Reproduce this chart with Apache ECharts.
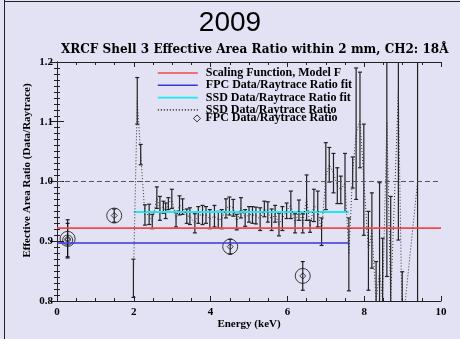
<!DOCTYPE html>
<html>
<head>
<meta charset="utf-8">
<script src="https://cdn.jsdelivr.net/npm/echarts@6/dist/echarts.min.js"></script>
<style>
  html, body { margin: 0; padding: 0; background: #e2e2f4; }
  #chart { width: 460px; height: 339px; }
</style>
</head>
<body>
<div id="chart"></div>
<script>
// SSD data/raytrace ratio per energy bin (keV), with 1-sigma errors
const ssdEnergy = [1.99, 2.09, 2.18, 2.29, 2.40, 2.48, 2.60, 2.68, 2.77, 2.83,
  2.90, 2.99, 3.10, 3.19, 3.27, 3.38, 3.46, 3.59, 3.68, 3.79,
  3.88, 3.98, 4.10, 4.20, 4.29, 4.40, 4.49, 4.59, 4.68, 4.79,
  4.90, 5.00, 5.09, 5.18, 5.29, 5.40, 5.49, 5.59, 5.68, 5.78,
  5.87, 5.98, 6.09, 6.20, 6.30, 6.40, 6.50, 6.59, 6.69, 6.79,
  6.89, 7.00, 7.09, 7.20, 7.30, 7.39, 7.50, 7.60, 7.70, 7.79,
  7.89, 7.99, 8.11, 8.20, 8.31, 8.40, 8.48, 8.59, 8.69, 8.89,
  8.99, 9.39];
const ssdRatio = [0.838, 1.135, 1.045, 0.944, 0.945, 0.933, 0.973, 0.955, 0.957, 0.951,
  0.963, 0.971, 0.937, 0.960, 0.958, 0.942, 0.942, 0.930, 0.944, 0.944,
  0.944, 0.937, 0.942, 0.936, 0.937, 0.955, 0.959, 0.956, 0.932, 0.956,
  0.939, 0.945, 0.944, 0.943, 0.937, 0.954, 0.949, 0.936, 0.946, 0.928,
  0.938, 0.951, 0.961, 0.930, 0.952, 0.930, 0.973, 0.925, 0.960, 0.954,
  0.916, 1.009, 1.028, 1.014, 0.993, 0.986, 0.998, 0.878, 1.015, 1.080,
  1.103, 1.003, 0.884, 0.918, 0.800, 0.850, 0.800, 1.100, 0.800, 1.150,
  0.750, 1.000];
const ssdErr = [0.032, 0.039, 0.017, 0.017, 0.017, 0.012, 0.018, 0.020, 0.010, 0.013,
  0.010, 0.016, 0.013, 0.016, 0.013, 0.012, 0.014, 0.016, 0.014, 0.016,
  0.014, 0.016, 0.018, 0.014, 0.016, 0.016, 0.015, 0.014, 0.013, 0.017,
  0.014, 0.013, 0.014, 0.014, 0.019, 0.013, 0.017, 0.018, 0.014, 0.019,
  0.020, 0.013, 0.023, 0.016, 0.017, 0.016, 0.038, 0.010, 0.027, 0.030,
  0.023, 0.056, 0.029, 0.033, 0.030, 0.023, 0.049, 0.061, 0.026, 0.110,
  0.080, 0.093, 0.066, 0.063, 0.066, 0.148, 0.105, 0.259, 0.175, 0.248,
  0.099, 0.500];

// FPC data/raytrace ratio points
const fpcEnergy = [0.277, 0.277, 1.49, 4.51, 6.40];
const fpcRatio = [0.904, 0.902, 0.943, 0.891, 0.842];
const fpcErr = [0.032, 0.028, 0.011, 0.0125, 0.024];

// Fitted levels
const scalingEnergy = [0, 10];
const scalingRatio = [0.922, 0.922];
const fpcFitEnergy = [0, 7.6];
const fpcFitRatio = [0.897, 0.897];
const ssdFitEnergy = [2.0, 7.6];
const ssdFitRatio = [0.949, 0.949];
const unityRatio = 1.0;

// Axis ranges and ticks
const energyTicks = [0, 2, 4, 6, 8, 10];
const ratioTicks = [0.8, 0.9, 1.0, 1.1, 1.2];

const NAMES = {
  scaling: 'Scaling Function, Model F',
  fpcFit: 'FPC Data/Raytrace Ratio fit',
  ssdFit: 'SSD Data/Raytrace Ratio fit',
  ssd: 'SSD Data/Raytrace Ratio',
  fpc: 'FPC Data/Raytrace Ratio'
};

const serifBold = { fontFamily: 'Liberation Serif', fontWeight: 'bold', color: '#000' };

function pairs(xs, ys) { return xs.map((x, i) => [x, ys[i]]); }
function errRows(xs, ys, es) { return xs.map((x, i) => [x, ys[i] - es[i], ys[i] + es[i]]); }

function errorBar(capHalf, color, width) {
  return function (params, api) {
    const x = api.value(0);
    const top = api.coord([x, api.value(2)]);
    const bot = api.coord([x, api.value(1)]);
    const style = { stroke: color, lineWidth: width };
    return {
      type: 'group',
      children: [
        { type: 'line', shape: { x1: top[0], y1: top[1], x2: bot[0], y2: bot[1] }, style },
        { type: 'line', shape: { x1: top[0] - capHalf, y1: top[1], x2: top[0] + capHalf, y2: top[1] }, style },
        { type: 'line', shape: { x1: bot[0] - capHalf, y1: bot[1], x2: bot[0] + capHalf, y2: bot[1] }, style }
      ]
    };
  };
}

const xBase = {
  type: 'value', min: energyTicks[0], max: energyTicks[energyTicks.length - 1], interval: 2,
  axisLine: { show: true, lineStyle: { color: '#222', width: 1 } },
  axisTick: { show: true, inside: true, length: 5, lineStyle: { color: '#222' } },
  minorTick: { show: true, splitNumber: 4, length: 3, lineStyle: { color: '#222' } },
  splitLine: { show: false }
};
const yBase = {
  type: 'value', min: ratioTicks[0], max: ratioTicks[ratioTicks.length - 1], interval: 0.1,
  axisLine: { show: true, lineStyle: { color: '#222', width: 1 } },
  axisTick: { show: true, inside: true, length: 7, lineStyle: { color: '#222' } },
  minorTick: { show: true, splitNumber: 10, length: 3, lineStyle: { color: '#222' } },
  splitLine: { show: false }
};

const legendText = Object.assign({ fontSize: 12, lineHeight: 11 }, serifBold);

const chart = echarts.init(document.getElementById('chart'), null, { renderer: 'canvas' });
chart.setOption({
  backgroundColor: '#e2e2f4',
  animation: false,
  title: [
    { text: '2009', left: 'center', top: 4,
      textStyle: { fontFamily: 'Liberation Sans', fontWeight: 'normal', fontSize: 28, color: '#000' } },
    { text: 'XRCF Shell 3 Effective Area Ratio within 2 mm, CH2: 18Å', left: 61, top: 44, padding: 0,
      textStyle: { fontFamily: 'DejaVu Serif', fontWeight: 'bold', fontSize: 12, color: '#000' } }
  ],
  graphic: [
    { type: 'line', shape: { x1: 4.5, y1: 0, x2: 4.5, y2: 339 }, style: { stroke: '#222', lineWidth: 1 } },
    { type: 'line', shape: { x1: 4, y1: 1.5, x2: 460, y2: 1.5 }, style: { stroke: '#222', lineWidth: 1 } }
  ],
  grid: { left: 57, right: 19, top: 62, bottom: 38 },
  legend: [
    {
      orient: 'vertical', left: 157, top: 67, padding: 0,
      itemWidth: 40, itemHeight: 8, itemGap: 0.3,
      itemStyle: { opacity: 0 },
      lineStyle: { width: 1.6 },
      textStyle: Object.assign({ padding: [0, 0, 0, 3] }, legendText),
      data: [NAMES.scaling, NAMES.fpcFit, NAMES.ssdFit, NAMES.ssd]
    },
    {
      orient: 'vertical', left: 193, top: 112.4, padding: 0, itemWidth: 7, itemHeight: 7,
      textStyle: legendText,
      data: [{ name: NAMES.fpc, icon: 'diamond',
        itemStyle: { color: 'transparent', borderColor: '#000', borderWidth: 1 } }]
    }
  ],
  xAxis: [
    Object.assign({}, xBase, {
      position: 'bottom',
      name: 'Energy (keV)', nameLocation: 'middle', nameGap: 18, nameMoveOverlap: false,
      nameTextStyle: Object.assign({ fontSize: 11 }, serifBold),
      axisLabel: Object.assign({ fontSize: 11, margin: 6 }, serifBold)
    }),
    Object.assign({}, xBase, { position: 'top', axisLabel: { show: false } })
  ],
  yAxis: [
    Object.assign({}, yBase, {
      position: 'left',
      name: 'Effective Area Ratio (Data/Raytrace)', nameLocation: 'middle', nameGap: 24, nameRotate: 90,
      nameMoveOverlap: false,
      nameTextStyle: Object.assign({ fontSize: 11, padding: [0, 0, 0, 22] }, serifBold),
      axisLabel: Object.assign({ fontSize: 11, margin: 4, formatter: v => v.toFixed(1) }, serifBold)
    }),
    Object.assign({}, yBase, { position: 'right', axisLabel: { show: false } })
  ],
  series: [
    {
      name: 'unity', type: 'line', data: [], silent: true,
      markLine: {
        symbol: 'none', silent: true, label: { show: false },
        lineStyle: { color: '#555', type: [5, 3], width: 1 },
        data: [{ yAxis: unityRatio }]
      }
    },
    {
      name: NAMES.scaling, type: 'line', symbol: 'none', data: pairs(scalingEnergy, scalingRatio),
      lineStyle: { color: '#ee4a4a', width: 1.6 }, itemStyle: { color: '#ee4a4a' }
    },
    {
      name: NAMES.fpcFit, type: 'line', symbol: 'none', data: pairs(fpcFitEnergy, fpcFitRatio),
      lineStyle: { color: '#3636dc', width: 1.5 }, itemStyle: { color: '#3636dc' }
    },
    {
      name: NAMES.ssdFit, type: 'line', symbol: 'none', data: pairs(ssdFitEnergy, ssdFitRatio),
      lineStyle: { color: '#22e6f0', width: 2 }, itemStyle: { color: '#22e6f0' }
    },
    {
      name: NAMES.ssd, type: 'line', symbol: 'none', data: pairs(ssdEnergy, ssdRatio),
      lineStyle: { color: '#333', width: 1, type: [1, 2] }, itemStyle: { color: '#333' }
    },
    {
      name: 'SSD errors', type: 'custom', clip: true,
      data: errRows(ssdEnergy, ssdRatio, ssdErr), encode: { x: 0, y: [1, 2] },
      renderItem: errorBar(2, '#222', 1.2)
    },
    {
      name: 'FPC errors', type: 'custom', clip: true,
      data: errRows(fpcEnergy, fpcRatio, fpcErr), encode: { x: 0, y: [1, 2] },
      renderItem: errorBar(2, '#111', 1.1)
    },
    {
      name: 'FPC rings', type: 'scatter', symbol: 'circle',
      symbolSize: (v, p) => (p.dataIndex === 1 ? 10 : 15),
      data: pairs(fpcEnergy, fpcRatio),
      itemStyle: { color: 'transparent', borderColor: '#111', borderWidth: 1 }
    },
    {
      name: NAMES.fpc, type: 'scatter', symbol: 'diamond', symbolSize: 6,
      data: pairs(fpcEnergy, fpcRatio),
      itemStyle: { color: 'transparent', borderColor: '#111', borderWidth: 1 }
    }
  ]
});
</script>
</body>
</html>
